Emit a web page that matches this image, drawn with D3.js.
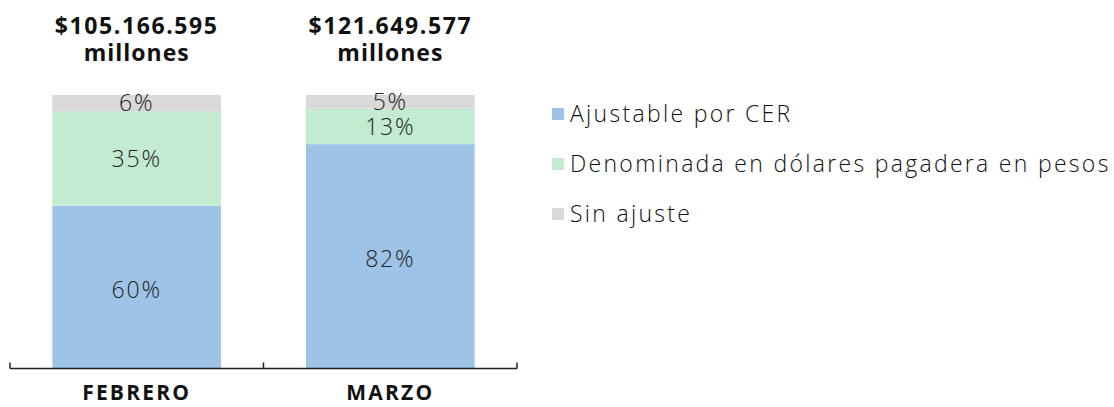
<!DOCTYPE html>
<html lang="es">
<head>
    <meta charset="UTF-8">
    <title>Composición por tipo de ajuste</title>
    <script src="https://d3js.org/d3.v7.min.js"></script>
    <style>
        body { margin: 0; background: #fff; }
        text { font-family: "Open Sans", "Noto Sans", sans-serif; }
    </style>
</head>
<body>

<div id="chart"></div>

<script>
    // Datos
    const months = ["FEBRERO", "MARZO"];
    const totals = ["$105.166.595", "$121.649.577"];
    const series = ["Ajustable por CER", "Denominada en dólares pagadera en pesos", "Sin ajuste"];
    const cer = [60, 82];
    const dolar = [35, 13];
    const sinAjuste = [6, 5];

    const colors = ["#9dc3e6", "#c2ebd2", "#d9d9d9"];

    const width = 1114;
    const height = 407;

    const rows = months.map((m, i) => ({
        month: m,
        [series[0]]: cer[i],
        [series[1]]: dolar[i],
        [series[2]]: sinAjuste[i]
    }));

    const svg = d3.select("#chart")
        .append("svg")
        .attr("width", width)
        .attr("height", height);

    // Escalas
    const x = d3.scaleBand()
        .domain(months)
        .range([10, 517])
        .paddingInner(0.335)
        .paddingOuter(0.167);

    const y = d3.scaleLinear()
        .domain([0, 1])
        .range([368, 95]);

    const color = d3.scaleOrdinal().domain(series).range(colors);

    const stacked = d3.stack()
        .keys(series)
        .offset(d3.stackOffsetExpand)(rows);

    // Barras
    const layer = svg.selectAll("g.layer")
        .data(stacked)
        .enter()
        .append("g")
        .attr("class", "layer")
        .attr("fill", d => color(d.key));

    layer.selectAll("rect")
        .data(d => d)
        .enter()
        .append("rect")
        .attr("x", d => x(d.data.month))
        .attr("width", x.bandwidth())
        .attr("y", d => y(d[1]))
        .attr("height", d => y(d[0]) - y(d[1]));

    // Etiquetas de porcentaje
    layer.selectAll("text")
        .data((d) => d.map(p => ({ p, key: d.key })))
        .enter()
        .append("text")
        .attr("x", d => x(d.p.data.month) + x.bandwidth() / 2)
        .attr("y", d => (y(d.p[0]) + y(d.p[1])) / 2 + (d.key === series[0] ? 3 : 0))
        .attr("dy", "0.36em")
        .attr("text-anchor", "middle")
        .style("font-size", "23px")
        .style("font-weight", 300)
        .style("letter-spacing", "1.8px")
        .style("fill", "#222")
        .text(d => d.p.data[d.key] + "%");

    // Eje inferior con marcas entre categorías
    const axisY = 368.5;
    svg.append("line")
        .attr("x1", 10).attr("x2", 517)
        .attr("y1", axisY).attr("y2", axisY)
        .attr("stroke", "#222").attr("stroke-width", 1.5);

    const tickXs = d3.range(months.length + 1).map(i => 10 + i * (507 / months.length));
    svg.selectAll("line.tick")
        .data(tickXs)
        .enter()
        .append("line")
        .attr("class", "tick")
        .attr("x1", d => d).attr("x2", d => d)
        .attr("y1", axisY - 6).attr("y2", axisY)
        .attr("stroke", "#222").attr("stroke-width", 1.5);

    svg.selectAll("text.cat")
        .data(months)
        .enter()
        .append("text")
        .attr("class", "cat")
        .attr("x", d => x(d) + x.bandwidth() / 2)
        .attr("y", 400)
        .attr("text-anchor", "middle")
        .style("font-size", "21px")
        .style("font-weight", 700)
        .style("letter-spacing", "2.2px")
        .style("fill", "#111")
        .text(d => d);

    // Totales sobre las barras
    const heads = svg.selectAll("g.head")
        .data(months)
        .enter()
        .append("g")
        .attr("class", "head")
        .attr("transform", d => `translate(${x(d) + x.bandwidth() / 2},0)`);

    heads.append("text")
        .attr("y", 34)
        .attr("text-anchor", "middle")
        .style("font-size", "23px")
        .style("font-weight", 700)
        .style("letter-spacing", "1.6px")
        .style("fill", "#111")
        .text((d, i) => totals[i]);

    heads.append("text")
        .attr("y", 61)
        .attr("text-anchor", "middle")
        .style("font-size", "23px")
        .style("font-weight", 700)
        .style("letter-spacing", "1px")
        .style("fill", "#111")
        .text("millones");

    // Leyenda
    const legend = svg.selectAll("g.legend")
        .data(series)
        .enter()
        .append("g")
        .attr("class", "legend")
        .attr("transform", (d, i) => `translate(552,${114 + i * 50})`);

    legend.append("rect")
        .attr("x", 0).attr("y", -6)
        .attr("width", 12).attr("height", 12)
        .attr("fill", d => color(d));

    legend.append("text")
        .attr("x", 18)
        .attr("y", 0)
        .attr("dy", "0.36em")
        .style("font-size", "23px")
        .style("font-weight", 300)
        .style("letter-spacing", "2.3px")
        .style("fill", "#111")
        .text(d => d);
</script>

</body>
</html>
